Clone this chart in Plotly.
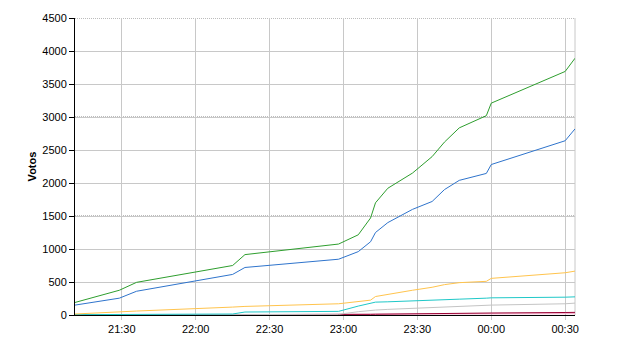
import plotly.graph_objects as go

times = ["2000-01-01 21:11", "2000-01-01 21:29", "2000-01-01 21:36", "2000-01-01 22:15",
         "2000-01-01 22:20", "2000-01-01 22:58", "2000-01-01 23:06", "2000-01-01 23:11",
         "2000-01-01 23:13", "2000-01-01 23:18", "2000-01-01 23:28", "2000-01-01 23:36",
         "2000-01-01 23:41", "2000-01-01 23:47", "2000-01-01 23:58", "2000-01-02 00:00",
         "2000-01-02 00:30", "2000-01-02 00:34"]

green = [190, 375, 495, 750, 915, 1075, 1215, 1470, 1700, 1920, 2150, 2400, 2620, 2835, 3020, 3210, 3690, 3890]
blue = [150, 255, 360, 615, 720, 845, 960, 1110, 1250, 1400, 1600, 1720, 1900, 2040, 2145, 2280, 2640, 2820]
yellow = [15, 50, 60, 120, 130, 170, 200, 225, 280, 315, 375, 420, 460, 490, 510, 555, 640, 665]
cyan = [5, 8, 10, 15, 45, 55, 135, 185, 195, 200, 210, 220, 230, 240, 255, 260, 270, 275]
gray = [0, 0, 0, 0, 0, 10, 50, 70, 75, 85, 100, 110, 120, 125, 140, 150, 170, 180]
darkred = [0, 0, 0, 0, 0, 2, 5, 10, 12, 15, 18, 20, 22, 25, 28, 30, 38, 40]
pink = [2, 3, 3, 5, 5, 6, 8, 10, 10, 11, 12, 13, 14, 15, 16, 17, 19, 20]

series = [
    ("pink", pink, "#F4A6C8"),
    ("darkred", darkred, "#990033"),
    ("gray", gray, "#C4C4C4"),
    ("cyan", cyan, "#1FC8C8"),
    ("yellow", yellow, "#FFC44D"),
    ("blue", blue, "#2F74CC"),
    ("green", green, "#2E9E2E"),
]

y_ticks = [0, 500, 1000, 1500, 2000, 2500, 3000, 3500, 4000, 4500]
dotted_levels = [1500, 3000, 4500]

fig = go.Figure()
for name, vals, col in series:
    fig.add_trace(go.Scatter(x=times, y=vals, mode="lines", name=name,
                             line=dict(color=col, width=1), showlegend=False))

for lv in dotted_levels:
    fig.add_shape(type="line", xref="paper", x0=0, x1=1, yref="y", y0=lv, y1=lv,
                  line=dict(color="#7A7A7A", width=1, dash="1px,1px"), layer="below")
fig.add_shape(type="line", xref="paper", x0=1, x1=1, yref="paper", y0=0, y1=1,
              line=dict(color="#C8C8C8", width=1), layer="below")

fig.update_layout(
    width=640, height=350,
    margin=dict(l=75, r=65, t=15, b=35),
    paper_bgcolor="white", plot_bgcolor="white",
    font=dict(family="Liberation Sans, Arial, sans-serif", size=11, color="black"),
    xaxis=dict(
        type="date",
        range=["2000-01-01 21:11", "2000-01-02 00:34"],
        tickformat="%H:%M",
        dtick=30 * 60 * 1000,
        tick0="2000-01-01 21:30",
        showgrid=True, gridcolor="#C8C8C8", gridwidth=1,
        showline=True, linecolor="black", linewidth=1,
        ticks="outside", ticklen=4, tickcolor="#C8C8C8",
        zeroline=False,
        tickfont=dict(size=11),
    ),
    yaxis=dict(
        range=[0, 4500],
        tickvals=y_ticks,
        showgrid=True, gridcolor="#C8C8C8", gridwidth=1,
        showline=True, linecolor="black", linewidth=1,
        ticks="outside", ticklen=5, tickcolor="black",
        zeroline=False,
        title=dict(text="<b>Votos</b>", font=dict(size=11), standoff=3),
        tickfont=dict(size=11),
    ),
)

fig.write_html("out.html")
